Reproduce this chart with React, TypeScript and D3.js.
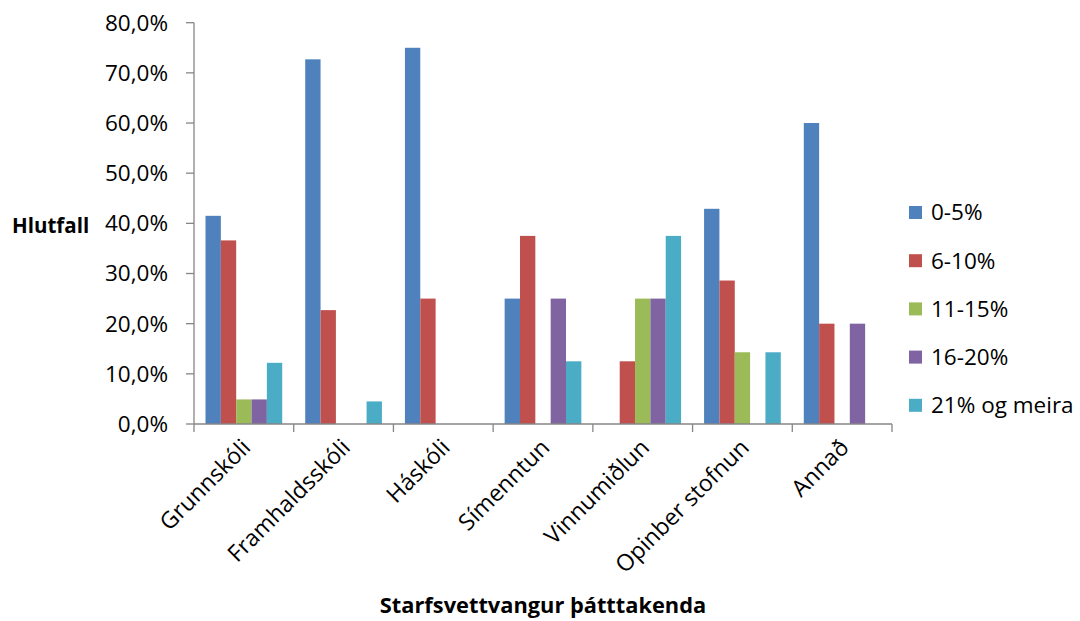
import React from "react";
import * as d3 from "d3";

const categories = ["Grunnskóli", "Framhaldsskóli", "Háskóli", "Símenntun", "Vinnumiðlun", "Opinber stofnun", "Annað"];
const seriesNames = ["0-5%", "6-10%", "11-15%", "16-20%", "21% og meira"];
const colors = ["#4F81BD", "#C0504D", "#9BBB59", "#8064A2", "#4BACC6"];
const s0 = [41.5, 72.7, 75.0, 25.0, 0, 42.9, 60.0];
const s1 = [36.6, 22.7, 25.0, 37.5, 12.5, 28.6, 20.0];
const s2 = [4.9, 0, 0, 0, 25.0, 14.3, 0];
const s3 = [4.9, 0, 0, 25.0, 25.0, 0, 20.0];
const s4 = [12.2, 4.5, 0, 12.5, 37.5, 14.3, 0];
const seriesValues = [s0, s1, s2, s3, s4];
const yTicks = [0, 10, 20, 30, 40, 50, 60, 70, 80];

const W = 1080, H = 621;
const left = 194, right = 892, top = 22.7, bottom = 424;
const FONT = "'Open Sans', sans-serif";
const AXIS = "#868686";

export default function App() {
  const x0 = d3.scaleBand<string>().domain(categories).range([left, right]).paddingInner(0).paddingOuter(0);
  const bw = x0.bandwidth() / 6.5;
  const x1 = d3.scaleBand<string>().domain(seriesNames).range([bw * 0.75, bw * 5.75]);
  const y = d3.scaleLinear().domain([0, 80]).range([bottom, top]);
  const fmt = (v: number) => d3.format(".1f")(v).replace(".", ",") + "%";
  const boundaries = categories.map((c) => x0(c)!).concat([right]);

  return (
    <svg width={W} height={H} style={{ position: "absolute", left: 0, top: 0, background: "#fff" }} fontFamily={FONT}>
      {seriesValues.map((vals, si) =>
        vals.map((v, ci) =>
          v > 0 ? (
            <rect key={`${si}-${ci}`} x={x0(categories[ci])! + x1(seriesNames[si])!} y={y(v)} width={x1.bandwidth()} height={y(0) - y(v)} fill={colors[si]} />
          ) : null
        )
      )}
      <line x1={left} x2={left} y1={top} y2={bottom} stroke={AXIS} strokeWidth={1.3} />
      <line x1={left} x2={right} y1={bottom} y2={bottom} stroke={AXIS} strokeWidth={1.3} />
      {yTicks.map((t) => (
        <g key={t}>
          <line x1={left - 8} x2={left} y1={y(t)} y2={y(t)} stroke={AXIS} strokeWidth={1.3} />
          <text x={168} y={y(t)} dy="0.35em" textAnchor="end" fontSize={22.5} fill="#000">{fmt(t)}</text>
        </g>
      ))}
      {boundaries.map((b, i) => (
        <line key={i} x1={b} x2={b} y1={bottom} y2={bottom + 8} stroke={AXIS} strokeWidth={1.3} />
      ))}
      {categories.map((c) => {
        const cx = x0(c)! + x0.bandwidth() / 2 + 8;
        return (
          <text key={c} transform={`translate(${cx},${449}) rotate(-45)`} textAnchor="end" fontSize={23} fill="#000">{c}</text>
        );
      })}
      <text x={12} y={233} fontSize={20.5} fontWeight="bold" fill="#000">Hlutfall</text>
      <text x={543} y={613} textAnchor="middle" fontSize={21.8} fontWeight="bold" fill="#000">Starfsvettvangur þátttakenda</text>
      {seriesNames.map((s, i) => {
        const cy = 212.5 + i * 48.2;
        return (
          <g key={s}>
            <rect x={909} y={cy - 6.5} width={13} height={13} fill={colors[i]} />
            <text x={931} y={cy} dy="0.35em" fontSize={22.5} fill="#000">{s}</text>
          </g>
        );
      })}
    </svg>
  );
}
